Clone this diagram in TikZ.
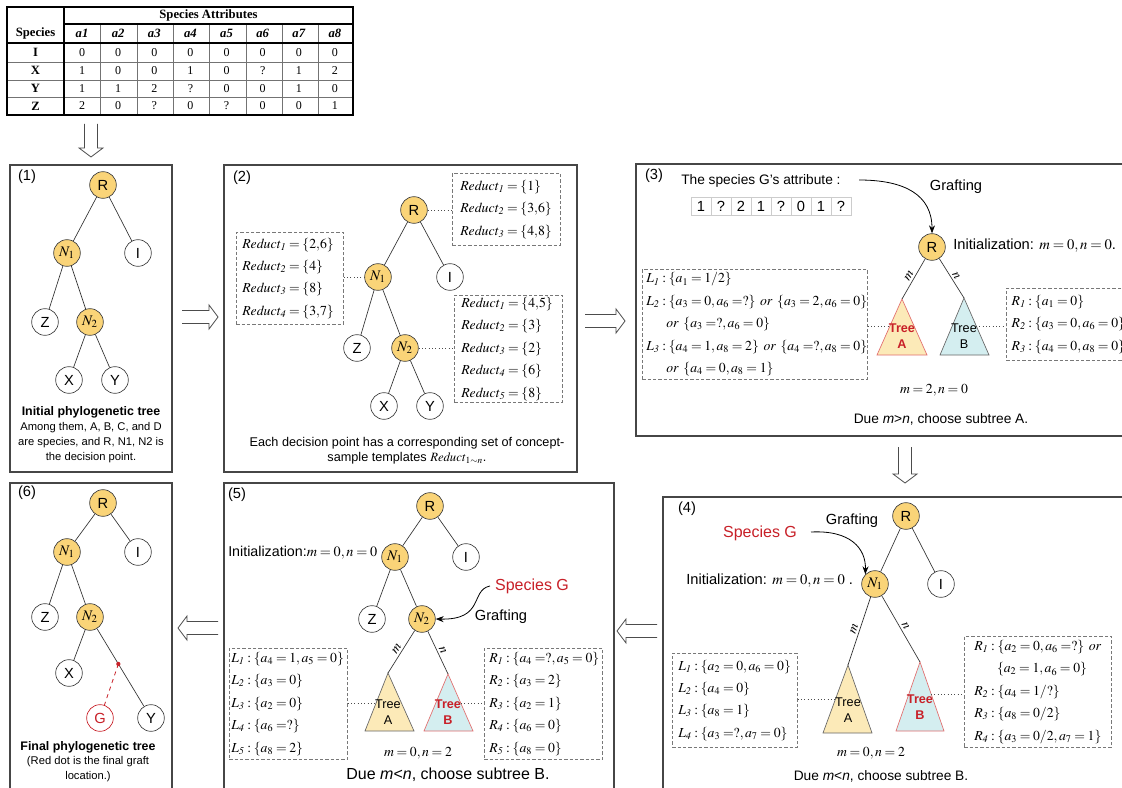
\documentclass[tikz,border=0pt]{standalone}
\usepackage{mathptmx}
\usepackage[no-math]{fontspec}
\setmainfont{Liberation Sans}
\newfontfamily\serifbody{Liberation Serif}
\usetikzlibrary{arrows.meta,calc}

\definecolor{nodeyel}{RGB}{250,212,120}
\definecolor{triyel}{RGB}{252,234,184}
\definecolor{tricyan}{RGB}{212,238,240}
\definecolor{gred}{RGB}{200,32,40}
\definecolor{trired}{RGB}{226,110,110}
\definecolor{framegray}{RGB}{70,70,70}
\definecolor{boxgray}{RGB}{120,120,120}

\newcommand\fmath{\fontsize{10.3}{16.8}\selectfont}
% one unbreakable formula line inside a template box
\newcommand\boxline[1]{\mbox{$#1$}}
\thickmuskip=3.5mu plus 2mu minus 1mu

\tikzset{
  panel/.style={draw=framegray, line width=0.8pt},
  dpt/.style={circle, draw=black!75, line width=0.5pt, fill=nodeyel, minimum size=20pt, inner sep=0pt, font=\fontsize{11}{13}\selectfont},
  leaf/.style={dpt, fill=white},
  gleaf/.style={dpt, fill=white, draw=gred, text=gred},
  branch/.style={draw=black!80, line width=0.5pt},
  dotlink/.style={draw=black!70, dotted, line width=0.5pt},
  dbox/.style={draw=boxgray, dash pattern=on 2.5pt off 1.5pt, line width=0.5pt, align=left, anchor=north west, font=\fmath, inner ysep=0pt},
  harrow/.style={draw=black!70, line width=0.6pt, line join=miter},
  graft/.style={draw=black, line width=0.6pt, -{Stealth[length=6pt,width=4.5pt]}},
  plabel/.style={font=\fontsize{11}{13}\selectfont, inner sep=0pt},
  capbold/.style={font=\fontsize{9.3}{11}\selectfont\bfseries, inner sep=0pt},
  captxt/.style={font=\fontsize{8.4}{11}\selectfont, align=center, inner sep=0pt},
  txt/.style={font=\fontsize{10.3}{12}\selectfont, inner sep=0pt},
  bigtxt/.style={font=\fontsize{11}{13}\selectfont, inner sep=0pt},
  spg/.style={font=\fontsize{12}{14}\selectfont, text=gred, inner sep=0pt},
  mtxt/.style={font=\fontsize{10.3}{12}\selectfont, inner sep=0pt},
  elab/.style={font=\fontsize{10}{12}\selectfont, inner sep=1.5pt},
  treelab/.style={font=\fontsize{9.5}{12}\selectfont, align=center, inner sep=0pt},
  treelabr/.style={treelab, text=gred, font=\fontsize{9.5}{12}\selectfont\bfseries},
  trA/.style={fill=triyel, draw=black!60, line width=0.5pt},
  trB/.style={fill=tricyan, draw=black!60, line width=0.5pt},
  chosentri/.style={draw=trired},
  attcell/.style={draw=black!20, line width=0.5pt, minimum width=15pt, minimum height=13.5pt, inner sep=0pt, font=\fontsize{11}{13}\selectfont},
  tfont/.style={font=\serifbody\fontsize{9}{10}\selectfont, inner sep=0pt},
  tfontb/.style={font=\serifbody\bfseries\fontsize{9.5}{11}\selectfont, inner sep=0pt},
  tfontbi/.style={font=\serifbody\bfseries\itshape\fontsize{9.5}{11}\selectfont, inner sep=0pt},
  tbold/.style={draw=black, line width=0.8pt},
  tgrid/.style={draw=black!55, line width=0.5pt},
  pics/hollow/.style={code={
    \draw[harrow] (0,-6.5) -- ({#1-9},-6.5) -- ({#1-9},-12) -- (#1,0) -- ({#1-9},12) -- ({#1-9},6.5) -- (0,6.5);
  }},
}

\begin{document}
\begin{tikzpicture}[x=0.75pt,y=-0.75pt]
\useasboundingbox (0,0) rectangle (1122,788);
\fill[white] (0,0) rectangle (1122,788);

% ---------------- attribute table ----------------
\foreach \xx in {100,137,173,209,246,282,318} \draw[tgrid] (\xx,24) -- (\xx,115);
\foreach \yy in {62,80,97} \draw[tgrid] (7,\yy) -- (353,\yy);
\draw[tbold] (64,7) -- (64,115);
\draw[tbold] (64,24) -- (353,24);
\draw[tbold] (7,43) -- (353,43);
\draw[line width=1.3pt] (7,7) rectangle (353,115);
\node[tfontb] (thA) at (208.5,15.5) {Species Attributes};
\node[tfontb] (thS) at (35.5,33.5) {Species};
\foreach \c in {1,...,8} \node[tfontbi] (tha\c) at ({64+36.125*(\c-0.5)},33.5) {a\c};
\node[tfontb] (trI) at (35.5,52.5) {I};
\node[tfontb] (trX) at (35.5,70.5) {X};
\node[tfontb] (trY) at (35.5,88.5) {Y};
\node[tfontb] (trZ) at (35.5,106) {Z};
\foreach \v [count=\c] in {0,0,0,0,0,0,0,0} \node[tfont] (tI\c) at ({64+36.125*(\c-0.5)},52.5) {\v};
\foreach \v [count=\c] in {1,0,0,1,0,?,1,2} \node[tfont] (tX\c) at ({64+36.125*(\c-0.5)},70.5) {\v};
\foreach \v [count=\c] in {1,1,2,?,0,0,1,0} \node[tfont] (tY\c) at ({64+36.125*(\c-0.5)},88.5) {\v};
\foreach \v [count=\c] in {2,0,?,0,?,0,0,1} \node[tfont] (tZ\c) at ({64+36.125*(\c-0.5)},106) {\v};

% ---------------- step arrows ----------------
\pic[rotate=-90] at (91,124) {hollow=33};
\pic at (182,317) {hollow=36};
\pic at (585,321) {hollow=40};
\pic[rotate=-90] at (905,447) {hollow=36};
\pic[rotate=180] at (657,631) {hollow=40};
\pic[rotate=180] at (218,628) {hollow=40};

% ---------------- panel frames ----------------
\draw[panel] (10,165) rectangle (172,472);
\draw[panel] (224,165) rectangle (577,472);
\draw[panel] (636,164) rectangle (1140,436);
\draw[panel] (663,497) rectangle (1140,800);
\draw[panel] (224,483) rectangle (614,800);
\draw[panel] (10,483) rectangle (172,800);

% ---------------- (1) initial tree ----------------
\node[plabel] (p1lab) at (27,177) {(1)};
\node[dpt] (p1R) at (103,185) {R};
\node[dpt] (p1N1) at (67,253) {$N_1$};
\node[leaf] (p1I) at (138,253) {I};
\node[leaf] (p1Z) at (45,322) {Z};
\node[dpt] (p1N2) at (90,322) {$N_2$};
\node[leaf] (p1X) at (69,380) {X};
\node[leaf] (p1Y) at (115,380) {Y};
\draw[branch] (p1R) -- (p1N1);
\draw[branch] (p1R) -- (p1I);
\draw[branch] (p1N1) -- (p1Z);
\draw[branch] (p1N1) -- (p1N2);
\draw[branch] (p1N2) -- (p1X);
\draw[branch] (p1N2) -- (p1Y);
\node[capbold] (p1t) at (91,412) {Initial phylogenetic tree};
\node[captxt] (p1c) at (91,442.5) {Among them, A, B, C, and D\\are species, and R, N1, N2 is\\the decision point.};

% ---------------- (2) reduct templates ----------------
\node[plabel] (p2lab) at (242,178) {(2)};
\node[dpt] (p2R) at (414,210) {R};
\node[dpt] (p2N1) at (378,277) {$N_1$};
\node[leaf] (p2I) at (450,277) {I};
\node[leaf] (p2Z) at (357,348) {Z};
\node[dpt] (p2N2) at (405,348) {$N_2$};
\node[leaf] (p2X) at (384,406) {X};
\node[leaf] (p2Y) at (430,406) {Y};
\draw[branch] (p2R) -- (p2N1);
\draw[branch] (p2R) -- (p2I);
\draw[branch] (p2N1) -- (p2Z);
\draw[branch] (p2N1) -- (p2N2);
\draw[branch] (p2N2) -- (p2X);
\draw[branch] (p2N2) -- (p2Y);
\node[dbox, minimum width=81pt, minimum height=54pt, inner xsep=6pt, text width=69pt] (p2bR) at (452,173)
  {\boxline{\mathit{Reduct}_{\mathit{1}}=\{1\}}\\\boxline{\mathit{Reduct}_{\mathit{2}}=\{3{,}6\}}\\\boxline{\mathit{Reduct}_{\mathit{3}}=\{4{,}8\}}};
\node[dbox, minimum width=80.25pt, minimum height=69pt, inner xsep=4.5pt, text width=71.25pt] (p2bN1) at (236,232)
  {\boxline{\mathit{Reduct}_{\mathit{1}}=\{2{,}6\}}\\\boxline{\mathit{Reduct}_{\mathit{2}}=\{4\}}\\\boxline{\mathit{Reduct}_{\mathit{3}}=\{8\}}\\\boxline{\mathit{Reduct}_{\mathit{4}}=\{3{,}7\}}};
\node[dbox, minimum width=81pt, minimum height=80.25pt, inner xsep=5.25pt, text width=70.5pt] (p2bN2) at (454,295)
  {\boxline{\mathit{Reduct}_{\mathit{1}}=\{4{,}5\}}\\\boxline{\mathit{Reduct}_{\mathit{2}}=\{3\}}\\\boxline{\mathit{Reduct}_{\mathit{3}}=\{2\}}\\\boxline{\mathit{Reduct}_{\mathit{4}}=\{6\}}\\\boxline{\mathit{Reduct}_{\mathit{5}}=\{8\}}};
\draw[dotlink] (p2R.east) -- (p2R.east -| p2bR.west);
\draw[dotlink] (p2N1.west) -- (p2N1.west -| p2bN1.east);
\draw[dotlink] (p2N2.east) -- (p2N2.east -| p2bN2.west);
\node[captxt, font=\fontsize{9.5}{11.25}\selectfont] (p2c) at (407,450.5)
  {Each decision point has a corresponding set of concept-\\sample templates $\mathit{Reduct}_{1\sim n}$.};

% ---------------- (3) grafting at R ----------------
\node[plabel] (p3lab) at (654,176) {(3)};
\node[txt, anchor=west] (p3t) at (681,181) {The species G's attribute :};
\foreach \v [count=\i] in {1,?,2,1,?,0,1,?} \node[attcell] (p3c\i) at ({701+20*(\i-1)},206) {\v};
\node[dpt] (p3R) at (932,247) {R};
\node[bigtxt, anchor=west] (p3init) at (953,246) {Initialization: $m=0,n=0$.};
\coordinate (p3gs) at (859,180);
\draw[graft] (p3gs) .. controls (905,180) and (932,195) .. (p3R.north);
\node[bigtxt] (p3gl) at (956,187) {Grafting};
\coordinate (p3A) at (902,299);
\coordinate (p3B) at (964,298);
\draw[trA, chosentri] (p3A) -- (877,355) -- (927,355) -- cycle;
\draw[trB] (p3B) -- (940,355) -- (989,355) -- cycle;
\draw[branch] (p3R) -- node[elab, sloped, above] {$m$} (p3A);
\draw[branch] (p3R) -- node[elab, sloped, above] {$n$} (p3B);
\node[treelabr] (p3tA) at (902,336) {Tree\\A};
\node[treelab] (p3tB) at (964,336) {Tree\\B};
\node[dbox, minimum width=168.75pt, minimum height=82.5pt, inner xsep=3pt, text width=162.75pt] (p3bL) at (642,269)
  {\boxline{L_{\mathit{1}}:\{a_1=1/2\}}\\
   \boxline{L_{\mathit{2}}:\{a_3=0,a_6=?\}\ \mathit{or}\ \{a_3=2,a_6=0\}}\\
   \hspace*{15pt}\boxline{\mathit{or}\ \{a_3=?,a_6=0\}}\\
   \boxline{L_{\mathit{3}}:\{a_4=1,a_8=2\}\ \mathit{or}\ \{a_4=?,a_8=0\}}\\
   \hspace*{15pt}\boxline{\mathit{or}\ \{a_4=0,a_8=1\}}};
\node[dbox, minimum width=110pt, minimum height=54pt, inner xsep=3.75pt, text width=102pt] (p3bR) at (1006,288)
  {\boxline{R_{\mathit{1}}:\{a_1=0\}}\\\boxline{R_{\mathit{2}}:\{a_3=0,a_6=0\}}\\\boxline{R_{\mathit{3}}:\{a_4=0,a_8=0\}}};
\coordinate (p3la) at (890,326);
\coordinate (p3lb) at (976,326);
\draw[dotlink] (p3la -| p3bL.east) -- (p3la);
\draw[dotlink] (p3lb) -- (p3lb -| p3bR.west);
\node[mtxt] (p3mn) at (934,390) {$m=2,n=0$};
\node[txt] (p3due) at (941,419) {Due \textit{m}>\textit{n}, choose subtree A.};

% ---------------- (4) grafting at N1 ----------------
\node[plabel] (p4lab) at (687,509) {(4)};
\node[dpt] (p4R) at (906,516) {R};
\node[dpt] (p4N1) at (875,584) {$N_1$};
\node[leaf] (p4I) at (941,584) {I};
\draw[branch] (p4R) -- (p4N1);
\draw[branch] (p4R) -- (p4I);
\node[bigtxt] (p4gl) at (852,521) {Grafting};
\node[spg] (p4sg) at (760,533) {Species G};
\coordinate (p4gs) at (811,532);
\draw[graft] (p4gs) .. controls (850,530) and (866,548) .. (p4N1.north west);
\node[bigtxt, anchor=west] (p4init) at (686,581) {Initialization: $m=0,n=0$ .};
\coordinate (p4A) at (848,665);
\coordinate (p4B) at (920,662);
\draw[trA] (p4A) -- (823,733) -- (872,733) -- cycle;
\draw[trB, chosentri] (p4B) -- (896,731) -- (944,731) -- cycle;
\draw[branch] (p4N1) -- node[elab, sloped, above] {$m$} (p4A);
\draw[branch] (p4N1) -- node[elab, sloped, above] {$n$} (p4B);
\node[treelab] (p4tA) at (848,710) {Tree\\A};
\node[treelabr] (p4tB) at (920,707.5) {Tree\\B};
\node[dbox, minimum width=93.75pt, minimum height=70.5pt, inner xsep=4.5pt, text width=84.75pt] (p4bL) at (672,653)
  {\boxline{L_{\mathit{1}}:\{a_2=0,a_6=0\}}\\\boxline{L_{\mathit{2}}:\{a_4=0\}}\\\boxline{L_{\mathit{3}}:\{a_8=1\}}\\\boxline{L_{\mathit{4}}:\{a_3=?,a_7=0\}}};
\node[dbox, minimum width=110.25pt, minimum height=83.25pt, inner xsep=7.5pt, text width=95.25pt] (p4bR) at (964,636)
  {\boxline{R_{\mathit{1}}:\{a_2=0,a_6=?\}\ \mathit{or}}\\
   \hspace*{17pt}\boxline{\{a_2=1,a_6=0\}}\\
   \boxline{R_{\mathit{2}}:\{a_4=1/?\}}\\
   \boxline{R_{\mathit{3}}:\{a_8=0/2\}}\\
   \boxline{R_{\mathit{4}}:\{a_3=0/2,a_7=1\}}};
\coordinate (p4la) at (836,699);
\coordinate (p4lb) at (931,694);
\draw[dotlink] (p4la -| p4bL.east) -- (p4la);
\draw[dotlink] (p4lb) -- (p4lb -| p4bR.west);
\node[mtxt] (p4mn) at (871,753) {$m=0,n=2$};
\node[txt] (p4due) at (881,776) {Due \textit{m}<\textit{n}, choose subtree B.};

% ---------------- (5) grafting at N2 ----------------
\node[plabel] (p5lab) at (237,495) {(5)};
\node[dpt] (p5R) at (430,506) {R};
\node[dpt] (p5N1) at (395,557) {$N_1$};
\node[leaf] (p5I) at (466,557) {I};
\node[leaf] (p5Z) at (372,619) {Z};
\node[dpt] (p5N2) at (422,619) {$N_2$};
\draw[branch] (p5R) -- (p5N1);
\draw[branch] (p5R) -- (p5I);
\draw[branch] (p5N1) -- (p5Z);
\draw[branch] (p5N1) -- (p5N2);
\node[bigtxt, anchor=west, font=\fontsize{10.7}{13}\selectfont] (p5init) at (228,553) {Initialization:$m=0,n=0$};
\node[spg] (p5sg) at (532,586) {Species G};
\node[bigtxt] (p5gl) at (501,617) {Grafting};
\coordinate (p5gs) at (490,586);
\draw[graft] (p5gs) .. controls (470,590) and (485,620) .. (p5N2.east);
\coordinate (p5A) at (388,673);
\coordinate (p5B) at (448,674);
\draw[trA] (p5A) -- (365,731) -- (414,731) -- cycle;
\draw[trB, chosentri] (p5B) -- (424,731) -- (473,731) -- cycle;
\draw[branch] (p5N2) -- node[elab, sloped, above] {$m$} (p5A);
\draw[branch] (p5N2) -- node[elab, sloped, above] {$n$} (p5B);
\node[treelab] (p5tA) at (388,712) {Tree\\A};
\node[treelabr] (p5tB) at (448,712) {Tree\\B};
\node[dbox, minimum width=88.5pt, minimum height=83.25pt, inner xsep=1.5pt, text width=85.5pt] (p5bL) at (229,648)
  {\boxline{L_{\mathit{1}}:\{a_4=1,a_5=0\}}\\\boxline{L_{\mathit{2}}:\{a_3=0\}}\\\boxline{L_{\mathit{3}}:\{a_2=0\}}\\\boxline{L_{\mathit{4}}:\{a_6=?\}}\\\boxline{L_{\mathit{5}}:\{a_8=2\}}};
\node[dbox, minimum width=88.5pt, minimum height=83.25pt, inner xsep=3.75pt, text width=81pt] (p5bR) at (484,648)
  {\boxline{R_{\mathit{1}}:\{a_4=?,a_5=0\}}\\\boxline{R_{\mathit{2}}:\{a_3=2\}}\\\boxline{R_{\mathit{3}}:\{a_2=1\}}\\\boxline{R_{\mathit{4}}:\{a_6=0\}}\\\boxline{R_{\mathit{5}}:\{a_8=0\}}};
\coordinate (p5la) at (377,703);
\coordinate (p5lb) at (461,703);
\draw[dotlink] (p5la -| p5bL.east) -- (p5la);
\draw[dotlink] (p5lb) -- (p5lb -| p5bR.west);
\node[mtxt] (p5mn) at (418,753) {$m=0,n=2$};
\node[bigtxt, font=\fontsize{12}{14}\selectfont] (p5due) at (448,775) {Due \textit{m}<\textit{n}, choose subtree B.};

% ---------------- (6) final tree ----------------
\node[plabel] (p6lab) at (27,493) {(6)};
\node[dpt] (p6R) at (103,503) {R};
\node[dpt] (p6N1) at (67,552) {$N_1$};
\node[leaf] (p6I) at (138,552) {I};
\node[leaf] (p6Z) at (45,617) {Z};
\node[dpt] (p6N2) at (90,617) {$N_2$};
\node[leaf] (p6X) at (69,673) {X};
\node[leaf] (p6Y) at (151,718) {Y};
\node[gleaf] (p6G) at (100,718) {G};
\draw[branch] (p6R) -- (p6N1);
\draw[branch] (p6R) -- (p6I);
\draw[branch] (p6N1) -- (p6Z);
\draw[branch] (p6N1) -- (p6N2);
\draw[branch] (p6N2) -- (p6X);
\draw[branch] (p6N2) -- (p6Y);
\coordinate (p6dot) at ($(p6N2)!0.465!(p6Y)$);
\draw[gred, dashed, line width=0.6pt] (p6dot) -- (p6G);
\fill[gred] (p6dot) circle (1.6pt);
\node[capbold] (p6t) at (88,747) {Final phylogenetic tree};
\node[captxt, font=\fontsize{8.4}{11.25}\selectfont] (p6c) at (88,769.5) {(Red dot is the final graft\\location.)};

\end{tikzpicture}
\end{document}
